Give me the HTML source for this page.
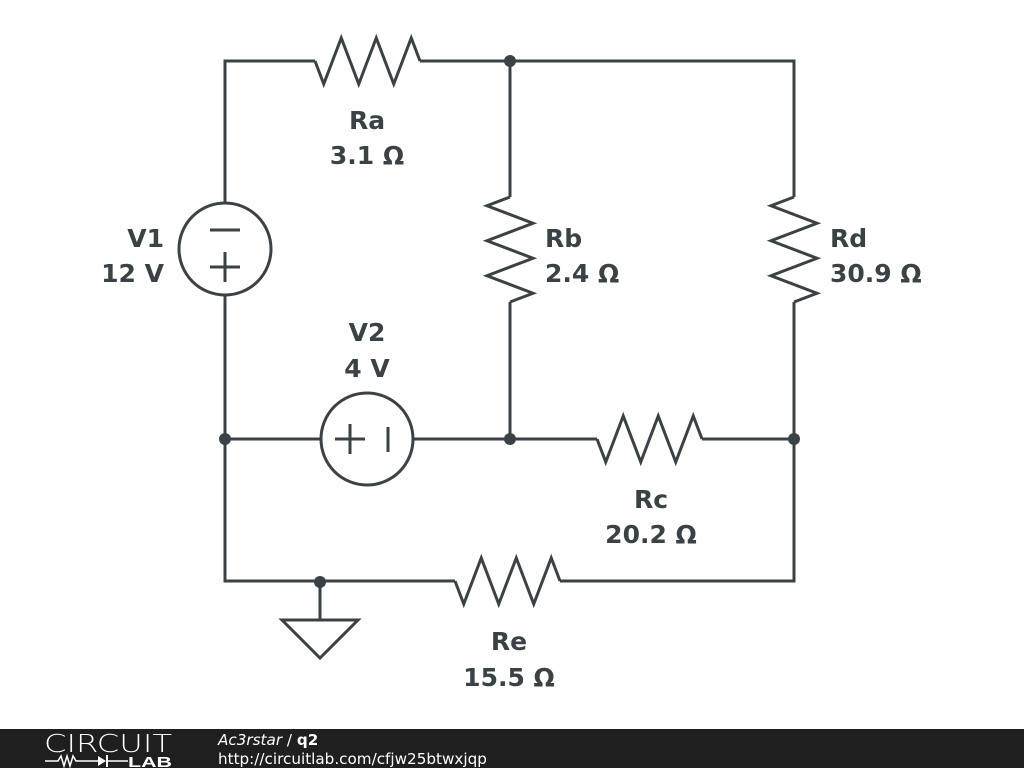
<!DOCTYPE html>
<html><head><meta charset="utf-8"><style>
html,body{margin:0;padding:0;background:#fff;width:1024px;height:768px;overflow:hidden}
svg{display:block}
.t{font-family:"DejaVu Sans","Liberation Sans",sans-serif;font-weight:bold;font-size:25px;fill:#3b4246}
</style></head><body>
<svg width="1024" height="768" viewBox="0 0 1024 768">
<g fill="none" stroke="#3b4246" stroke-width="3" stroke-linejoin="miter">
<polyline points="225,203 225,61 315,61"/>
<polyline points="420,61 794,61 794,197"/>
<line x1="510" y1="61" x2="510" y2="197"/>
<line x1="510" y1="302" x2="510" y2="439"/>
<polyline points="794,302 794,581 560,581"/>
<polyline points="225,295 225,581 455,581"/>
<line x1="225" y1="439" x2="321" y2="439"/>
<line x1="413" y1="439" x2="597" y2="439"/>
<line x1="702" y1="439" x2="794" y2="439"/>
<line x1="320" y1="581" x2="320" y2="620"/>
<polygon points="282,620 358,620 320,658"/>
<polyline points="315,61 323.75,84 341.25,38 358.75,84 376.25,38 393.75,84 411.25,38 420,61"/>
<polyline points="597,439 605.75,462 623.25,416 640.75,462 658.25,416 675.75,462 693.25,416 702,439"/>
<polyline points="455,581 463.75,604 481.25,558 498.75,604 516.25,558 533.75,604 551.25,558 560,581"/>
<polyline points="510,197 487,205.75 533,223.25 487,240.75 533,258.25 487,275.75 533,293.25 510,302"/>
<polyline points="794,197 771,205.75 817,223.25 771,240.75 817,258.25 771,275.75 817,293.25 794,302"/>
<circle cx="225" cy="249" r="46"/>
<line x1="210" y1="230" x2="240" y2="230"/>
<line x1="210" y1="267" x2="240" y2="267"/>
<line x1="225" y1="252" x2="225" y2="282"/>
<circle cx="367" cy="439" r="46"/>
<line x1="335" y1="439" x2="365" y2="439"/>
<line x1="350" y1="424" x2="350" y2="454"/>
<line x1="388" y1="427" x2="388" y2="452"/>
</g>
<g fill="#3b4246">
<circle cx="510" cy="61" r="6"/>
<circle cx="225" cy="439" r="6"/>
<circle cx="510" cy="439" r="6"/>
<circle cx="794" cy="439" r="6"/>
<circle cx="320" cy="582" r="6"/>
</g>
<text class="t" x="367" y="129" text-anchor="middle">Ra</text>
<text class="t" x="367" y="164" text-anchor="middle">3.1 Ω</text>
<text class="t" x="164" y="247" text-anchor="end">V1</text>
<text class="t" x="164" y="282" text-anchor="end">12 V</text>
<text class="t" x="367" y="341" text-anchor="middle">V2</text>
<text class="t" x="367" y="377" text-anchor="middle">4 V</text>
<text class="t" x="545" y="247">Rb</text>
<text class="t" x="545" y="282">2.4 Ω</text>
<text class="t" x="830" y="247">Rd</text>
<text class="t" x="830" y="282">30.9 Ω</text>
<text class="t" x="651" y="508" text-anchor="middle">Rc</text>
<text class="t" x="651" y="543" text-anchor="middle">20.2 Ω</text>
<text class="t" x="509" y="650" text-anchor="middle">Re</text>
<text class="t" x="509" y="686" text-anchor="middle">15.5 Ω</text>
<rect x="0" y="729" width="1024" height="39" fill="#1f1f1f"/>
<text x="44" y="752" font-family="DejaVu Sans,sans-serif" font-size="25" font-weight="200" fill="#fff" textLength="128" lengthAdjust="spacingAndGlyphs">CIRCUIT</text>
<polyline points="45,761 58,761 61,756 64,766 67,756 70,766 73,756 76,761 98,761" fill="none" stroke="#fff" stroke-width="1.5"/>
<polygon points="98,756 98,766 106,761" fill="#fff"/>
<line x1="107" y1="755" x2="107" y2="767" stroke="#fff" stroke-width="2"/>
<line x1="107" y1="761" x2="128" y2="761" stroke="#fff" stroke-width="1.5"/>
<text x="128" y="767" font-family="Liberation Sans,sans-serif" font-size="15" font-weight="bold" fill="#fff" textLength="44" lengthAdjust="spacingAndGlyphs">LAB</text>
<text x="218" y="745" font-family="DejaVu Sans,sans-serif" font-size="15.2" fill="#fff"><tspan font-style="italic">Ac3rstar</tspan> / <tspan font-weight="bold">q2</tspan></text>
<text x="218" y="764" font-family="DejaVu Sans,sans-serif" font-size="15.2" fill="#fff">http://circuitlab.com/cfjw25btwxjqp</text>
</svg>
</body></html>
